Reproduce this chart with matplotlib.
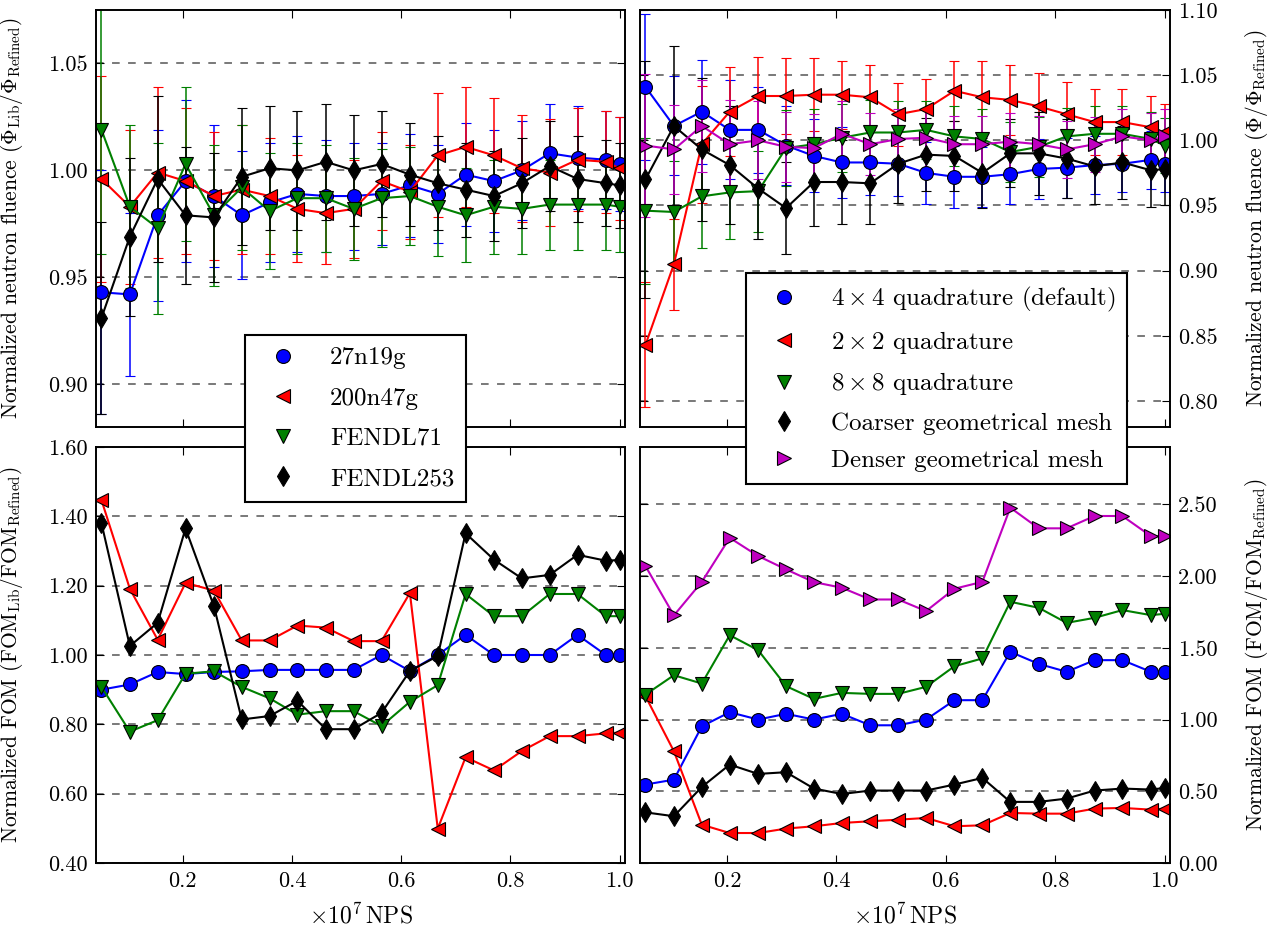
import matplotlib
matplotlib.use("Agg")
import matplotlib.pyplot as plt
from matplotlib.lines import Line2D
from matplotlib.ticker import FormatStrFormatter, MultipleLocator

plt.rcParams['font.family'] = 'serif'
plt.rcParams['font.serif'] = ['cmr10']
plt.rcParams['mathtext.fontset'] = 'cm'
plt.rcParams['axes.formatter.use_mathtext'] = True
plt.rcParams['axes.unicode_minus'] = False

# x axis: NPS in units of 1e7
nps = [0.051, 0.103, 0.154, 0.205, 0.257, 0.308, 0.359, 0.410, 0.462, 0.513,
       0.564, 0.616, 0.667, 0.718, 0.770, 0.821, 0.872, 0.923, 0.975, 1.000]

# --- top left: fluence, libraries
lib_labels = ['27n19g', '200n47g', 'FENDL71', 'FENDL253']
flu_27n19g = [0.943, 0.942, 0.979, 0.995, 0.988, 0.979, 0.985, 0.989, 0.988, 0.988,
              0.989, 0.993, 0.989, 0.998, 0.995, 1.000, 1.008, 1.006, 1.005, 1.003]
err_27n19g = [0.057, 0.038, 0.040, 0.038, 0.033, 0.030, 0.028, 0.027, 0.026, 0.025,
              0.024, 0.024, 0.023, 0.024, 0.024, 0.023, 0.023, 0.024, 0.023, 0.022]
flu_200n47g = [0.996, 0.983, 0.999, 0.995, 0.988, 0.991, 0.988, 0.982, 0.980, 0.982,
               0.995, 0.990, 1.007, 1.011, 1.007, 1.001, 0.999, 1.005, 1.004, 1.001]
err_200n47g = [0.048, 0.036, 0.040, 0.034, 0.030, 0.030, 0.027, 0.025, 0.024, 0.023,
               0.023, 0.022, 0.029, 0.028, 0.027, 0.025, 0.025, 0.024, 0.024, 0.024]
flu_fendl71 = [1.019, 0.983, 0.973, 1.003, 0.979, 0.992, 0.981, 0.987, 0.987, 0.982,
               0.987, 0.988, 0.983, 0.979, 0.983, 0.982, 0.984, 0.984, 0.984, 0.983]
err_fendl71 = [0.058, 0.038, 0.040, 0.036, 0.033, 0.029, 0.027, 0.026, 0.025, 0.024,
               0.023, 0.023, 0.023, 0.022, 0.022, 0.021, 0.021, 0.021, 0.021, 0.021]
flu_fendl253 = [0.931, 0.969, 0.996, 0.979, 0.978, 0.997, 1.001, 1.000, 1.004, 1.000,
                1.003, 0.998, 0.994, 0.991, 0.988, 0.994, 1.002, 0.996, 0.994, 0.993]
err_fendl253 = [0.045, 0.037, 0.039, 0.032, 0.030, 0.032, 0.029, 0.028, 0.027, 0.026,
                0.025, 0.024, 0.022, 0.022, 0.021, 0.021, 0.021, 0.020, 0.020, 0.020]

# --- top right: fluence, quadrature / mesh
var_labels = [r'$4\times4$ quadrature (default)', r'$2\times2$ quadrature',
              r'$8\times8$ quadrature', 'Coarser geometrical mesh', 'Denser geometrical mesh']
flu_q4 = [1.041, 1.011, 1.022, 1.008, 1.008, 0.996, 0.988, 0.983, 0.983, 0.982,
          0.975, 0.972, 0.972, 0.974, 0.978, 0.979, 0.981, 0.982, 0.985, 0.982]
err_q4 = [0.056, 0.038, 0.040, 0.038, 0.033, 0.030, 0.028, 0.027, 0.025, 0.025,
          0.024, 0.024, 0.023, 0.023, 0.023, 0.023, 0.022, 0.022, 0.022, 0.022]
flu_q2 = [0.843, 0.905, 0.997, 1.022, 1.034, 1.034, 1.035, 1.035, 1.033, 1.020,
          1.024, 1.038, 1.033, 1.031, 1.026, 1.020, 1.014, 1.014, 1.010, 1.006]
err_q2 = [0.048, 0.035, 0.045, 0.034, 0.030, 0.029, 0.028, 0.026, 0.025, 0.024,
          0.023, 0.023, 0.028, 0.027, 0.026, 0.025, 0.025, 0.025, 0.024, 0.022]
flu_q8 = [0.946, 0.945, 0.957, 0.960, 0.961, 0.994, 0.997, 1.002, 1.006, 1.006,
          1.008, 1.003, 1.001, 0.991, 0.995, 1.003, 1.005, 1.005, 1.001, 0.996]
err_q8 = [0.056, 0.039, 0.040, 0.036, 0.031, 0.029, 0.027, 0.026, 0.025, 0.024,
          0.022, 0.023, 0.023, 0.023, 0.023, 0.022, 0.021, 0.021, 0.021, 0.021]
flu_coarse = [0.970, 1.011, 0.993, 0.981, 0.963, 0.948, 0.968, 0.968, 0.967, 0.982,
              0.989, 0.988, 0.975, 0.990, 0.990, 0.986, 0.980, 0.983, 0.977, 0.978]
err_coarse = [0.091, 0.061, 0.055, 0.045, 0.039, 0.035, 0.034, 0.032, 0.031, 0.030,
              0.028, 0.027, 0.027, 0.026, 0.032, 0.030, 0.029, 0.028, 0.028, 0.028]
flu_dense = [0.996, 0.993, 1.011, 0.997, 1.000, 0.995, 0.994, 1.005, 0.997, 1.001,
             1.002, 0.997, 0.997, 0.999, 0.997, 0.993, 0.997, 1.003, 1.000, 1.003]
err_dense = [0.055, 0.034, 0.035, 0.034, 0.030, 0.027, 0.026, 0.025, 0.024, 0.023,
             0.023, 0.022, 0.022, 0.022, 0.022, 0.022, 0.021, 0.021, 0.021, 0.021]

# --- bottom left: FOM, libraries
fom_27n19g = [0.900, 0.915, 0.951, 0.945, 0.951, 0.953, 0.957, 0.957, 0.957, 0.957,
              1.000, 0.954, 1.000, 1.058, 1.000, 1.000, 1.000, 1.058, 1.000, 1.000]
fom_200n47g = [1.447, 1.191, 1.044, 1.208, 1.186, 1.042, 1.042, 1.085, 1.079, 1.040,
               1.040, 1.179, 0.499, 0.705, 0.667, 0.723, 0.766, 0.766, 0.774, 0.776]
fom_fendl71 = [0.908, 0.779, 0.812, 0.946, 0.953, 0.908, 0.875, 0.828, 0.838, 0.838,
               0.795, 0.865, 0.913, 1.176, 1.112, 1.112, 1.176, 1.176, 1.112, 1.112]
fom_fendl253 = [1.380, 1.026, 1.093, 1.365, 1.141, 0.814, 0.824, 0.868, 0.786, 0.786,
                0.833, 0.954, 0.997, 1.351, 1.275, 1.221, 1.231, 1.289, 1.272, 1.274]

# --- bottom right: FOM, quadrature / mesh
fom_q4 = [0.547, 0.581, 0.953, 1.051, 1.000, 1.040, 1.000, 1.040, 0.960, 0.960,
          1.000, 1.135, 1.135, 1.472, 1.388, 1.333, 1.414, 1.414, 1.333, 1.333]
fom_q2 = [1.163, 0.779, 0.267, 0.209, 0.209, 0.240, 0.256, 0.279, 0.291, 0.302,
          0.314, 0.256, 0.263, 0.349, 0.344, 0.344, 0.379, 0.384, 0.372, 0.379]
fom_q8 = [1.174, 1.309, 1.251, 1.588, 1.484, 1.233, 1.144, 1.186, 1.179, 1.179,
          1.228, 1.372, 1.426, 1.821, 1.779, 1.674, 1.709, 1.763, 1.728, 1.737]
fom_coarse = [0.353, 0.326, 0.530, 0.686, 0.621, 0.633, 0.519, 0.481, 0.505, 0.505,
              0.505, 0.547, 0.593, 0.426, 0.426, 0.449, 0.505, 0.519, 0.512, 0.523]
fom_dense = [2.070, 1.726, 1.960, 2.267, 2.140, 2.047, 1.958, 1.919, 1.837, 1.837,
             1.756, 1.912, 1.960, 2.477, 2.333, 2.333, 2.419, 2.419, 2.279, 2.279]

colors = ['b', 'r', 'g', 'k', 'm']
markers = ['o', '<', 'v', 'd', '>']
MS = 10
FS_TICK = 16
FS_LABEL = 15.5
FS_LEG = 18

fig = plt.figure(figsize=(12.68, 9.34), dpi=100)
W, H = 1268.0, 934.0
def rect(l, r, t, b):
    return [l / W, 1 - b / H, (r - l) / W, (b - t) / H]

ax_tl = fig.add_axes(rect(96, 625, 10, 427))
ax_tr = fig.add_axes(rect(640, 1170, 10, 427), sharex=ax_tl)
ax_bl = fig.add_axes(rect(96, 625, 447, 863), sharex=ax_tl)
ax_br = fig.add_axes(rect(640, 1170, 447, 863), sharex=ax_tl)

def style(ax, right=False):
    ax.set_axisbelow(True)
    ax.yaxis.grid(True, color='#555555', linestyle=(0, (5, 5.5)), linewidth=1.1)
    ax.tick_params(direction='in', length=5.5, width=0.8, top=True, bottom=True,
                   left=True, right=True, labelsize=FS_TICK, pad=6)
    if right:
        ax.tick_params(labelleft=False, labelright=True)
        ax.yaxis.set_label_position('right')
    for s in ax.spines.values():
        s.set_linewidth(1.4)
    ax.yaxis.set_major_formatter(FormatStrFormatter('%.2f'))

def eplot(ax, y, e, c, m):
    ax.errorbar(nps, y, yerr=e, fmt='-', color=c, ecolor=c, marker=m, ms=MS,
                mec='k', mew=0.8, lw=1.5, elinewidth=1.1, capsize=3.6, capthick=1.1)

for y, e, c, m in zip([flu_27n19g, flu_200n47g, flu_fendl71, flu_fendl253],
                      [err_27n19g, err_200n47g, err_fendl71, err_fendl253], colors, markers):
    eplot(ax_tl, y, e, c, m)

for y, e, c, m in zip([flu_q4, flu_q2, flu_q8, flu_coarse, flu_dense],
                      [err_q4, err_q2, err_q8, err_coarse, err_dense], colors, markers):
    eplot(ax_tr, y, e, c, m)

for y, c, m in zip([fom_27n19g, fom_200n47g, fom_fendl71, fom_fendl253], colors, markers):
    ax_bl.plot(nps, y, '-', color=c, marker=m, ms=MS, mec='k', mew=0.8, lw=1.5)

for y, c, m in zip([fom_q4, fom_q2, fom_q8, fom_coarse, fom_dense], colors, markers):
    ax_br.plot(nps, y, '-', color=c, marker=m, ms=MS, mec='k', mew=0.8, lw=1.5)

for ax in [ax_tl, ax_bl]:
    style(ax)
for ax in [ax_tr, ax_br]:
    style(ax, right=True)

ax_tl.set_xlim(0.041, 1.01)
ax_tl.xaxis.set_major_locator(MultipleLocator(0.2))
ax_tl.xaxis.set_major_formatter(FormatStrFormatter('%.1f'))
ax_tl.tick_params(labelbottom=False)
ax_tr.tick_params(labelbottom=False)

ax_tl.set_ylim(0.88, 1.075)
ax_tl.yaxis.set_major_locator(MultipleLocator(0.05))
ax_tr.set_ylim(0.78, 1.10)
ax_tr.yaxis.set_major_locator(MultipleLocator(0.05))
ax_bl.set_ylim(0.40, 1.60)
ax_bl.yaxis.set_major_locator(MultipleLocator(0.2))
ax_br.set_ylim(0.0, 2.9)
ax_br.yaxis.set_major_locator(MultipleLocator(0.5))

ax_tl.set_ylabel(r'Normalized neutron fluence ($\Phi_{\rm Lib}/\Phi_{\rm Refined}$)', fontsize=FS_LABEL)
ax_tr.set_ylabel(r'Normalized neutron fluence ($\Phi/\Phi_{\rm Refined}$)', fontsize=FS_LABEL)
ax_bl.set_ylabel(r'Normalized FOM ($\rm FOM_{Lib}/FOM_{Refined}$)', fontsize=FS_LABEL)
ax_br.set_ylabel(r'Normalized FOM ($\rm FOM/FOM_{Refined}$)', fontsize=FS_LABEL)
for ax in [ax_tl, ax_bl]:
    ax.yaxis.set_label_coords(-0.135, 0.5)
for ax in [ax_tr, ax_br]:
    ax.yaxis.set_label_coords(1.137, 0.5)
for ax in [ax_bl, ax_br]:
    ax.set_xlabel(r'$\times10^7\,$NPS', fontsize=17, labelpad=9)

def handles(n):
    return [Line2D([], [], ls='none', marker=markers[i], color=colors[i], mec='k',
                   mew=0.8, ms=MS) for i in range(n)]

leg_kw = dict(loc='upper left', fontsize=FS_LEG, numpoints=1, fancybox=False,
              framealpha=1, edgecolor='k', borderpad=0.47, handlelength=2.1,
              handletextpad=0.83, borderaxespad=0)
leg1 = fig.legend(handles(4), lib_labels, bbox_to_anchor=(245 / W, 1 - 335 / H),
                  labelspacing=0.71, **leg_kw)
leg2 = fig.legend(handles(5), var_labels, bbox_to_anchor=(746 / W, 1 - 273 / H),
                  labelspacing=0.59, **leg_kw)
for leg in [leg1, leg2]:
    leg.get_frame().set_linewidth(1.5)

fig.savefig('out.png', dpi=100)
